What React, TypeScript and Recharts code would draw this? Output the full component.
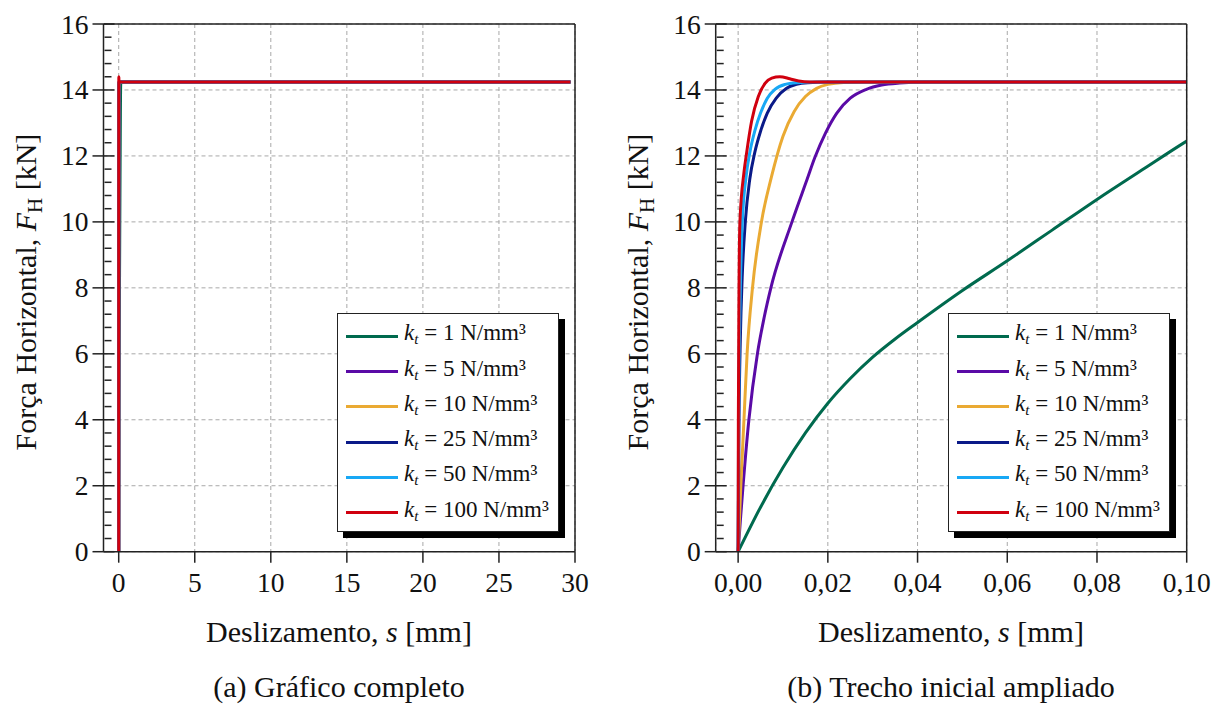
import { LineChart, Line, XAxis, YAxis, CartesianGrid, Legend } from "recharts";

const FONT = '"Liberation Serif", "Times New Roman", Times, serif';

// k_t values and colours
const ktLabels = ["1", "5", "10", "25", "50", "100"];
const ktColors = ["#006a4e", "#5a0aa6", "#eaaa33", "#0a1a88", "#18a8f5", "#d0000f"];

// slip s [mm] / force F_H [kN]
const s1 = [0, 0.005, 0.01, 0.015, 0.02, 0.025, 0.03, 0.035, 0.04, 0.05, 0.06, 0.07, 0.08, 0.09, 0.1, 0.11, 0.12, 0.13, 0.15, 29.7];
const f1 = [0, 1.35, 2.55, 3.6, 4.5, 5.25, 5.9, 6.45, 6.95, 7.92, 8.82, 9.75, 10.68, 11.57, 12.45, 13.25, 13.85, 14.15, 14.24, 14.24];

const s5 = [0, 0.0005, 0.0011, 0.0024, 0.0043, 0.0058, 0.0073, 0.012, 0.0154, 0.0171, 0.0195, 0.022, 0.025, 0.0286, 0.032, 0.036, 0.042, 29.7];
const f5 = [0, 0.95, 2, 4, 6, 7.1, 8, 10, 11.3, 11.95, 12.7, 13.3, 13.75, 14.02, 14.15, 14.21, 14.24, 14.24];

const s10 = [0, 0.0006, 0.0013, 0.002, 0.0032, 0.0052, 0.0074, 0.01, 0.0125, 0.015, 0.0175, 0.02, 0.0235, 0.028, 29.7];
const f10 = [0, 2, 4, 6, 8, 10, 11.35, 12.6, 13.35, 13.8, 14.05, 14.17, 14.23, 14.24, 14.24];

const s25 = [0, 0.0002, 0.0005, 0.0009, 0.0016, 0.0026, 0.0037, 0.005, 0.0065, 0.0085, 0.0108, 0.013, 0.0155, 0.02, 29.7];
const f25 = [0, 4, 6.5, 8.3, 10, 11.3, 12.1, 12.75, 13.3, 13.75, 14.05, 14.17, 14.22, 14.24, 14.24];

const s50 = [0, 0.0001, 0.0003, 0.0005, 0.0009, 0.0018, 0.0026, 0.0038, 0.005, 0.0065, 0.0082, 0.0105, 0.013, 0.017, 29.7];
const f50 = [0, 4, 6.5, 8, 9.9, 11.4, 12.1, 12.8, 13.3, 13.75, 14.02, 14.17, 14.22, 14.24, 14.24];

const s100 = [0, 0.00005, 0.0002, 0.0004, 0.0013, 0.0019, 0.003, 0.0045, 0.006, 0.0075, 0.0093, 0.0115, 0.0135, 0.016, 29.7];
const f100 = [0, 4, 8, 10, 11.5, 12.1, 13.05, 13.8, 14.2, 14.36, 14.4, 14.34, 14.27, 14.24, 14.24];

const sList = [s1, s5, s10, s25, s50, s100];
const fList = [f1, f5, f10, f25, f50, f100];

// ticks
const xMajorA = [0, 5, 10, 15, 20, 25, 30];
const xMajorB = [0, 0.02, 0.04, 0.06, 0.08, 0.1];
const yMajor = [0, 2, 4, 6, 8, 10, 12, 14, 16];

const xMinorA = Array.from({ length: 29 }, (_, i) => i + 1).filter((v) => v % 5 !== 0);
const xMinorB = Array.from({ length: 19 }, (_, i) => i + 1).filter((i) => i % 4 !== 0).map((i) => +(i * 0.005).toFixed(3));
const yMinor = Array.from({ length: 39 }, (_, i) => i + 1).filter((i) => i % 5 !== 0).map((i) => +(i * 0.4).toFixed(1));

const series = ktLabels.map((k, i) => ({
  name: k,
  color: ktColors[i],
  data: sList[i].map((s, j) => ({ s, f: fList[i][j] })),
}));

const AX = { stroke: "#222", strokeWidth: 1.5 };
const EmptyTick = () => <g />;

const fmtA = (v: number) => String(v);
const fmtB = (v: number) => v.toFixed(2).replace(".", ",");

function XTick(props: any) {
  const { x, y, payload, fmt } = props;
  return (
    <text x={x} y={y} dy={29} textAnchor="middle" fontFamily={FONT} fontSize={27.5} fill="#111">
      {fmt(payload.value)}
    </text>
  );
}

function YTick(props: any) {
  const { x, y, payload } = props;
  return (
    <text x={x} y={y} dy={9.5} textAnchor="end" fontFamily={FONT} fontSize={27.5} fill="#111">
      {payload.value}
    </text>
  );
}

function XTitle(props: any) {
  const { mid, cap } = props;
  return (
    <g fontFamily={FONT} fill="#111">
      <text x={mid} y={642} textAnchor="middle" fontSize={30}>
        Deslizamento, <tspan fontStyle="italic">s</tspan> [mm]
      </text>
      <text x={mid} y={697} textAnchor="middle" fontSize={30}>
        {cap}
      </text>
    </g>
  );
}

function YTitle(props: any) {
  const { bx } = props;
  const cy = 292;
  return (
    <text
      x={bx}
      y={cy}
      transform={`rotate(-90, ${bx}, ${cy})`}
      textAnchor="middle"
      fontFamily={FONT}
      fontSize={30}
      fill="#111"
    >
      Força Horizontal, <tspan fontStyle="italic">F</tspan>
      <tspan fontSize={21} dy={6}>H</tspan>
      <tspan dy={-6}> [kN]</tspan>
    </text>
  );
}

function LegendBox() {
  return (
    <div
      style={{
        position: "relative",
        width: 222,
        height: 219,
        boxSizing: "border-box",
        border: "1.5px solid #222",
        background: "#fff",
        boxShadow: "6px 6px 0 #000",
        fontFamily: FONT,
        fontSize: 23,
        color: "#111",
      }}
    >
      {series.map((sr, i) => (
        <div
          key={sr.name}
          style={{
            position: "absolute",
            left: 0,
            top: 18.7 + i * 35.3 - 17.65 + 3.5,
            height: 35.3,
            display: "flex",
            alignItems: "center",
            whiteSpace: "nowrap",
          }}
        >
          <span style={{ display: "inline-block", marginLeft: 8, width: 52, height: 3, background: sr.color }} />
          <span style={{ marginLeft: 6, lineHeight: "35px" }}>
            <i>k</i>
            <sub style={{ fontSize: 15, verticalAlign: "-4px" }}>
              <i>t</i>
            </sub>{" "}
            = {sr.name} N/mm³
          </span>
        </div>
      ))}
    </div>
  );
}

function Panel(props: any) {
  const { xDomain, xMajor, xMinor, fmt, axisW, mRight, mid, yTitleX, cap, legendLeft } = props;
  return (
    <LineChart width={608} height={709} margin={{ top: 24, right: mRight, left: 0, bottom: 107.3 }}>
      <CartesianGrid stroke="#a8a8a8" strokeDasharray="4 3" />
      <XAxis
        dataKey="s"
        type="number"
        domain={xDomain}
        allowDataOverflow
        ticks={xMajor}
        interval={0}
        tickSize={11}
        tickMargin={0}
        height={50}
        axisLine={AX}
        tickLine={AX}
        tick={<XTick fmt={fmt} />}
        label={<XTitle mid={mid} cap={cap} />}
      />
      <XAxis xAxisId="xmin" type="number" domain={xDomain} allowDataOverflow ticks={xMinor} interval={0} mirror height={1} tickSize={7} axisLine={false} tickLine={AX} tick={EmptyTick} />
      <XAxis xAxisId="xin" type="number" domain={xDomain} allowDataOverflow ticks={xMajor} interval={0} mirror height={1} tickSize={11} axisLine={false} tickLine={AX} tick={EmptyTick} />
      <XAxis xAxisId="xtop" orientation="top" type="number" domain={xDomain} allowDataOverflow mirror height={1} ticks={xMajor} tickLine={false} tick={EmptyTick} axisLine={AX} />
      <YAxis
        type="number"
        domain={[0, 16]}
        allowDataOverflow
        ticks={yMajor}
        interval={0}
        width={axisW}
        tickSize={11}
        tickMargin={4}
        axisLine={AX}
        tickLine={AX}
        tick={<YTick />}
        label={<YTitle bx={yTitleX} />}
      />
      <YAxis yAxisId="ymin" type="number" domain={[0, 16]} allowDataOverflow ticks={yMinor} interval={0} mirror width={1} tickSize={7} axisLine={false} tickLine={AX} tick={EmptyTick} />
      <YAxis yAxisId="yin" type="number" domain={[0, 16]} allowDataOverflow ticks={yMajor} interval={0} mirror width={1} tickSize={11} axisLine={false} tickLine={AX} tick={EmptyTick} />
      <YAxis yAxisId="yright" orientation="right" type="number" domain={[0, 16]} allowDataOverflow mirror width={1} ticks={yMajor} tickLine={false} tick={EmptyTick} axisLine={AX} />
      {series.map((sr) => (
        <Line
          key={sr.name}
          data={sr.data}
          dataKey="f"
          type="monotone"
          stroke={sr.color}
          strokeWidth={3}
          dot={false}
          activeDot={false}
          isAnimationActive={false}
        />
      ))}
      <Legend
        layout="vertical"
        align="center"
        verticalAlign="middle"
        wrapperStyle={{ left: legendLeft, top: 313, width: 222, height: 219 }}
        content={() => <LegendBox />}
      />
    </LineChart>
  );
}

export default function App() {
  return (
    <div style={{ position: "relative", width: 1216, height: 709, display: "flex", background: "#fff" }}>
      <style>{"body{margin:0}"}</style>
      <Panel
        xDomain={[-1, 30]}
        xMajor={xMajorA}
        xMinor={xMinorA}
        fmt={fmtA}
        axisW={103.5}
        mRight={33}
        mid={339}
        yTitleX={36}
        cap="(a) Gráfico completo"
        legendLeft={337}
      />
      <Panel
        xDomain={[-0.005, 0.1]}
        xMajor={xMajorB}
        xMinor={xMinorB}
        fmt={fmtB}
        axisW={107.7}
        mRight={29.3}
        mid={343}
        yTitleX={40}
        cap="(b) Trecho inicial ampliado"
        legendLeft={340}
      />
    </div>
  );
}
